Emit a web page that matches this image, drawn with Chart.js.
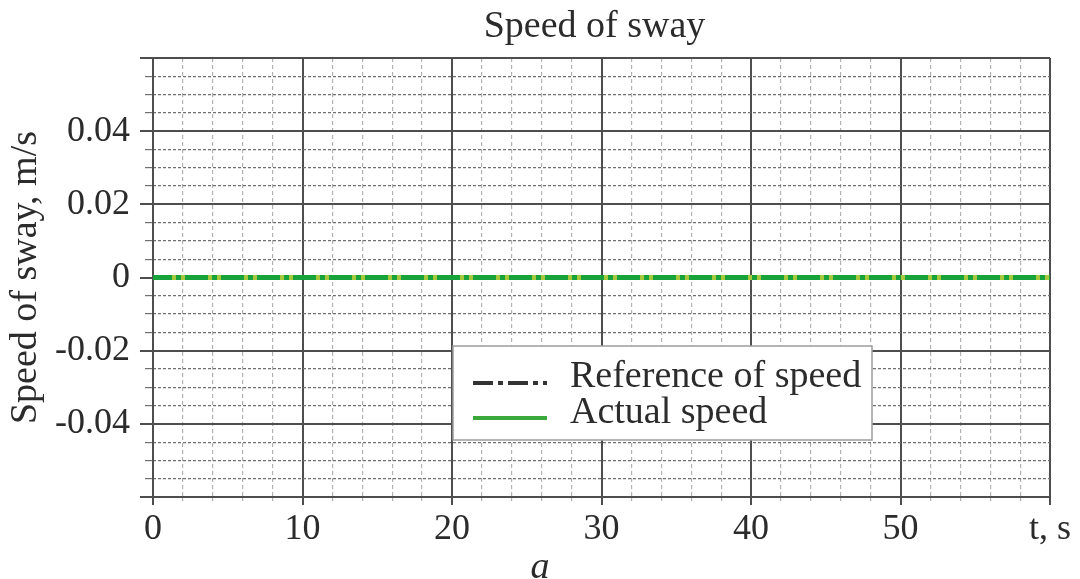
<!DOCTYPE html>
<html>
<head>
<meta charset="utf-8">
<title>Speed of sway</title>
<script src="https://cdn.jsdelivr.net/npm/chart.js@4.4.0/dist/chart.umd.min.js"></script>
<style>
  html, body { margin: 0; padding: 0; background: #fff; }
  #chart_sway { display: block; }
</style>
</head>
<body>
<canvas id="chart_sway" width="1080" height="579"></canvas>
<script>
var time_s = [0, 10, 20, 30, 40, 50, 60];
var ref_speed = [0, 0, 0, 0, 0, 0, 0];
var actual_speed = [0, 0, 0, 0, 0, 0, 0];
var series_names = ['Reference of speed', 'Actual speed'];
var x_tick_labels = ['0', '10', '20', '30', '40', '50', 't, s'];
var y_tick_labels = ['-0.04', '-0.02', '0', '0.02', '0.04'];
var chart_title = 'Speed of sway';
var y_title = 'Speed of sway, m/s';
var caption = 'a';

var serif = '"Liberation Serif", "Times New Roman", serif';
var text_color = '#2b2b2b';
var major_color = '#4e4e4e';
var green = '#17a23c';
var chart;

function on_step(v, step) {
  return Math.abs(v / step - Math.round(v / step)) < 1e-6;
}

function points(values) {
  return time_s.map(function (t, i) { return {x: t, y: values[i]}; });
}

function fix_width(w) {
  return function (scale) { scale.width = w; };
}

function fix_height(h) {
  return function (scale) { scale.height = h; };
}

// title, caption and the boxed legend
var decorations = {
  id: 'decorations',
  afterDatasetsDraw: function (c) {
    var ctx = c.ctx;
    var area = c.chartArea;
    var bx = area.left + 300, by = area.top + 288;
    ctx.save();
    ctx.fillStyle = '#fff';
    ctx.fillRect(bx, by, 419, 94);
    ctx.strokeStyle = '#9c9c9c';
    ctx.lineWidth = 1.5;
    ctx.strokeRect(bx, by, 419, 94);

    ctx.lineWidth = 4;
    ctx.strokeStyle = '#333';
    ctx.setLineDash([20, 5, 5, 5]);
    ctx.beginPath();
    ctx.moveTo(bx + 20, by + 37);
    ctx.lineTo(bx + 94, by + 37);
    ctx.stroke();
    ctx.setLineDash([]);
    ctx.strokeStyle = '#3aa83a';
    ctx.beginPath();
    ctx.moveTo(bx + 20, by + 72);
    ctx.lineTo(bx + 94, by + 72);
    ctx.stroke();

    ctx.fillStyle = text_color;
    ctx.font = '38px ' + serif;
    ctx.textAlign = 'left';
    ctx.textBaseline = 'alphabetic';
    ctx.fillText(c.data.datasets[0].label, bx + 117, by + 41);
    ctx.fillText(c.data.datasets[1].label, bx + 117, by + 77);
    ctx.restore();
  },
  afterDraw: function (c) {
    var ctx = c.ctx;
    var area = c.chartArea;
    ctx.save();
    ctx.fillStyle = text_color;
    ctx.textAlign = 'center';
    ctx.textBaseline = 'alphabetic';
    ctx.font = '38px ' + serif;
    ctx.fillText(chart_title, (area.left + area.right) / 2 - 7, 37);
    ctx.font = 'italic 38px ' + serif;
    ctx.fillText(caption, c.width / 2, 578);
    ctx.restore();
  }
};

function make_chart() {
  var ctx = document.getElementById('chart_sway').getContext('2d');
  Chart.defaults.font.family = serif;
  Chart.defaults.color = text_color;

  chart = new Chart(ctx, {
    type: 'line',
    data: {
      datasets: [{
        label: series_names[0],
        data: points(ref_speed),
        borderColor: '#a8c93c',
        borderWidth: 5,
        borderDash: [4, 5, 4, 23],
        borderDashOffset: 17,
        pointRadius: 0,
        xAxisID: 'x',
        yAxisID: 'y'
      }, {
        label: series_names[1],
        data: points(actual_speed),
        borderColor: green,
        borderWidth: 5,
        pointRadius: 0,
        xAxisID: 'x',
        yAxisID: 'y'
      }]
    },
    options: {
      responsive: false,
      animation: false,
      layout: { padding: { top: 58, left: 0, right: 30, bottom: 0 } },
      plugins: {
        legend: { display: false },
        title: { display: false },
        tooltip: { enabled: false }
      },
      scales: {
        xMinor: {
          type: 'linear', position: 'bottom', weight: 0,
          min: 0, max: 60,
          ticks: { stepSize: 2, display: false },
          grid: {
            color: function (c) { return on_step(c.tick.value, 10) ? 'rgba(0,0,0,0)' : '#b2b2b2'; },
            lineWidth: 1.2,
            tickLength: 4
          },
          border: { display: false, dash: [4, 3] },
          afterFit: fix_height(0)
        },
        x: {
          type: 'linear', position: 'bottom', weight: 1,
          min: 0, max: 60,
          ticks: {
            stepSize: 10,
            padding: 3,
            maxRotation: 0,
            font: { size: 36 },
            callback: function (v) {
              var i = time_s.indexOf(v);
              return i < 0 ? '' : x_tick_labels[i];
            }
          },
          grid: { color: major_color, lineWidth: 2, tickLength: 8 },
          border: { color: major_color, width: 2 },
          afterFit: fix_height(82)
        },
        yMinor: {
          type: 'linear', position: 'left', weight: 0,
          min: -0.06, max: 0.06,
          ticks: { stepSize: 0.005, display: false },
          grid: {
            color: function (c) { return on_step(c.tick.value, 0.02) ? 'rgba(0,0,0,0)' : '#707070'; },
            lineWidth: 1.2,
            tickLength: 8
          },
          border: { display: false, dash: [3, 2] },
          afterFit: fix_width(0)
        },
        y: {
          type: 'linear', position: 'left', weight: 1,
          min: -0.06, max: 0.06,
          ticks: {
            stepSize: 0.02,
            padding: 10,
            font: { size: 36 },
            callback: function (v) {
              var s = String(parseFloat(v.toFixed(2)));
              return y_tick_labels.indexOf(s) < 0 ? '' : s;
            }
          },
          grid: { color: major_color, lineWidth: 2, tickLength: 13 },
          border: { color: major_color, width: 2 },
          title: {
            display: true,
            text: y_title,
            font: { size: 38 },
            padding: { top: 3, bottom: 0 }
          },
          afterFit: fix_width(153)
        }
      }
    },
    plugins: [decorations]
  });
}

make_chart();
</script>
</body>
</html>
